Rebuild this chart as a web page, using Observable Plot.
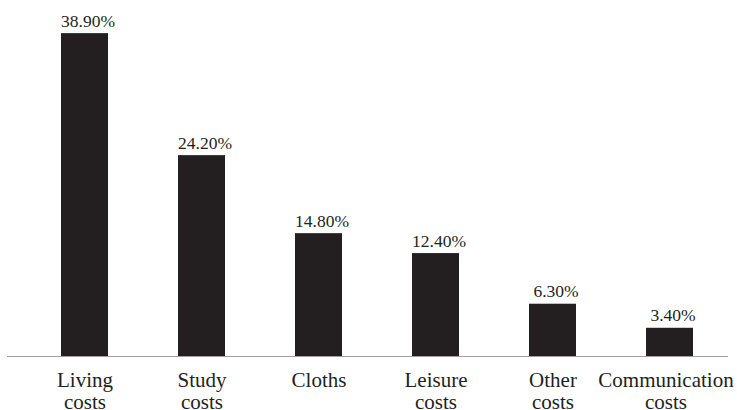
<!DOCTYPE html>
<html>
<head>
<meta charset="utf-8">
<script src="https://cdn.jsdelivr.net/npm/d3@7"></script>
<script src="https://cdn.jsdelivr.net/npm/@observablehq/plot@0.6"></script>
<style>
  html, body { margin: 0; padding: 0; background: #fff; }
  #chart svg text { font-family: "Liberation Serif", "Times New Roman", serif !important; }
</style>
</head>
<body>
<div id="chart"></div>
<script>
const categories = ["Living costs", "Study costs", "Cloths", "Leisure costs", "Other costs", "Communication costs"];
const tickLabels = ["Living\ncosts", "Study\ncosts", "Cloths", "Leisure\ncosts", "Other\ncosts", "Communication\ncosts"];
const values = [38.9, 24.2, 14.8, 12.4, 6.3, 3.4];
const valueLabels = ["38.90%", "24.20%", "14.80%", "12.40%", "6.30%", "3.40%"];

const data = categories.map((c, i) => ({category: c, value: values[i], label: valueLabels[i]}));
const tickMap = new Map(categories.map((c, i) => [c, tickLabels[i]]));
const lastCat = categories[categories.length - 1];

const axisOpts = {tickSize: 0, tickPadding: 15, fontSize: 21, lineHeight: 1.05, tickFormat: d => tickMap.get(d), label: null, fill: "#231f20"};

const chart = Plot.plot({
  width: 737,
  height: 410,
  marginTop: 24,
  marginBottom: 54,
  marginLeft: 7,
  marginRight: 9,
  style: {background: "#fff", color: "#231f20"},
  x: {
    domain: categories,
    paddingInner: 0.6,
    paddingOuter: 0.3,
    insetLeft: 18,
    label: null
  },
  y: {domain: [0, 40], axis: null},
  marks: [
    Plot.barY(data, {x: "category", y: "value", fill: "#231f20"}),
    Plot.ruleY([0], {stroke: "#a0a0a0", strokeWidth: 1.2}),
    Plot.text(data, {x: "category", y: "value", text: "label", dy: -7, dx: 3, lineAnchor: "bottom", fontSize: 17.5, fill: "#231f20"}),
    Plot.axisX({...axisOpts, ticks: categories.slice(0, -1)}),
    Plot.axisX({...axisOpts, ticks: [lastCat], dx: -4})
  ]
});
document.getElementById("chart").appendChild(chart);
</script>
</body>
</html>
